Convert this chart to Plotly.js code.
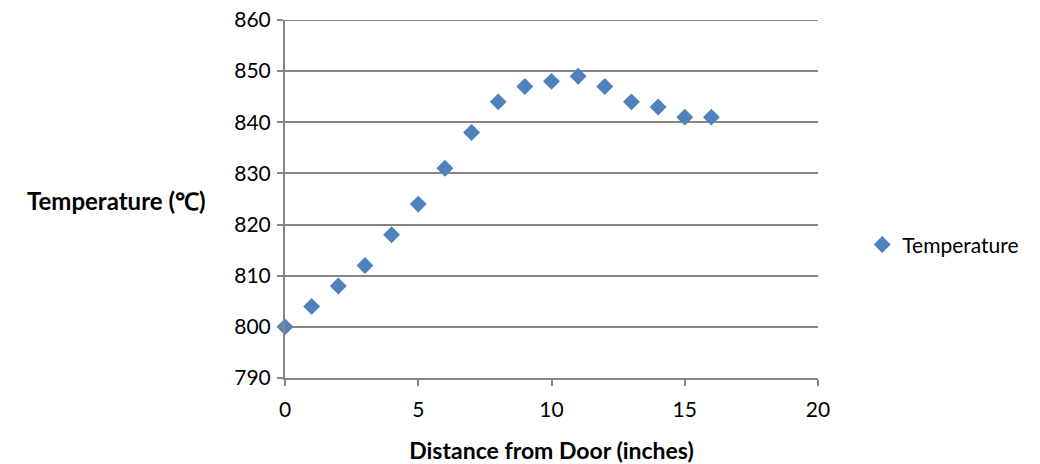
<!DOCTYPE html>
<html>
<head>
<meta charset="utf-8">
<script src="https://cdn.plot.ly/plotly-3.0.1.min.js"></script>
<style>html,body{margin:0;padding:0;background:#fff;}#chart{width:1040px;height:464px;}</style>
</head>
<body>
<div id="chart"></div>
<script>
const distance = [0, 1, 2, 3, 4, 5, 6, 7, 8, 9, 10, 11, 12, 13, 14, 15, 16];
const temperature = [800, 804, 808, 812, 818, 824, 831, 838, 844, 847, 848, 849, 847, 844, 843, 841, 841];
const seriesName = 'Temperature';
const xTitle = 'Distance from Door (inches)';
const yTitle = 'Temperature (℃)';

const font = 'Lato, "Open Sans", "Liberation Sans", sans-serif';
const trace = {
  x: distance, y: temperature, name: seriesName, type: 'scatter', mode: 'markers',
  cliponaxis: false,
  marker: {symbol: 'diamond', size: 13, color: '#4F81BD'}
};
const layout = {
  width: 1040, height: 464,
  margin: {l: 285, r: 222, t: 20, b: 86, autoexpand: false},
  paper_bgcolor: '#fff', plot_bgcolor: '#fff',
  font: {family: font, size: 21, color: '#000'},
  showlegend: true,
  legend: {x: 1.083, y: 0.372, xanchor: 'left', yanchor: 'middle', font: {size: 21}, itemwidth: 30, tracegroupgap: 0},
  xaxis: {
    range: [0, 20], tickvals: [0, 5, 10, 15, 20], showgrid: false, zeroline: false,
    showline: true, linecolor: '#868686', linewidth: 2,
    ticks: 'outside', ticklen: 6, tickcolor: '#868686', tickwidth: 2, ticklabelstandoff: 6,
    tickfont: {size: 21}, title: {text: '<b>' + xTitle + '</b>', font: {size: 23}, standoff: 24}
  },
  yaxis: {
    range: [790, 860], dtick: 10, showgrid: true, gridcolor: '#868686', gridwidth: 2,
    zeroline: false, showline: true, linecolor: '#868686', linewidth: 2,
    ticks: 'outside', ticklen: 6, tickcolor: '#868686', tickwidth: 2, ticklabelstandoff: 2,
    tickfont: {size: 21}
  },
  shapes: [{type: 'line', xref: 'paper', yref: 'y', x0: 0, x1: 1, y0: 860, y1: 860, line: {color: '#868686', width: 2}}],
  annotations: [{
    text: '<b>' + yTitle + '</b>', xref: 'paper', yref: 'paper', x: -0.145, y: 0.495,
    xanchor: 'right', yanchor: 'middle', showarrow: false, font: {size: 24}
  }]
};
Plotly.newPlot('chart', [trace], layout, {displayModeBar: false, staticPlot: true});
</script>
</body>
</html>
